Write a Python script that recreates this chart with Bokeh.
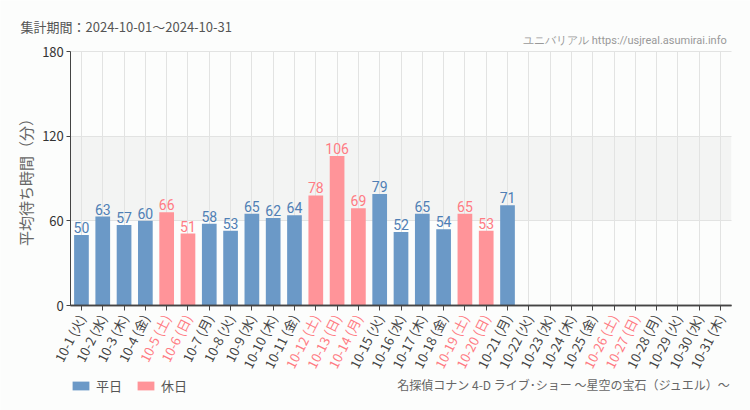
from bokeh.plotting import figure
from bokeh.models import (ColumnDataSource, Range1d, FixedTicker, BoxAnnotation,
                          LabelSet, Label, Legend, LegendItem, LinearAxis)
from bokeh.core.properties import value
from bokeh.embed import file_html
from bokeh.resources import INLINE
import math

# ---- data ----
dates = ["10-1", "10-2", "10-3", "10-4", "10-5", "10-6", "10-7", "10-8", "10-9", "10-10",
         "10-11", "10-12", "10-13", "10-14", "10-15", "10-16", "10-17", "10-18", "10-19", "10-20",
         "10-21", "10-22", "10-23", "10-24", "10-25", "10-26", "10-27", "10-28", "10-29", "10-30",
         "10-31"]
weekdays = ["火", "水", "木", "金", "土", "日", "月", "火", "水", "木",
            "金", "土", "日", "月", "火", "水", "木", "金", "土", "日",
            "月", "火", "水", "木", "金", "土", "日", "月", "火", "水",
            "木"]
holiday = [0, 0, 0, 0, 1, 1, 0, 0, 0, 0,
           0, 1, 1, 1, 0, 0, 0, 0, 1, 1,
           0, 0, 0, 0, 0, 1, 1, 0, 0, 0,
           0]
wait_minutes = [50, 63, 57, 60, 66, 51, 58, 53, 65, 62,
                64, 78, 106, 69, 79, 52, 65, 54, 65, 53,
                71, None, None, None, None, None, None, None, None, None,
                None]
y_ticks = [0, 60, 120, 180]

# ---- styles / layout ----
BLUE = "#6b99c7"
PINK = "#ff9499"
BLUE_TXT = "#4f7fb5"
PINK_TXT = "#ff7b83"
BG = "#fcfdfc"
GRID = "#e2e3e2"
AXIS = "#444444"
JP = "'Noto Sans CJK JP', 'Noto Sans', sans-serif"
NARROW = "Roboto, sans-serif"

W, H = 750, 410
CL, CR, CT, CB = 70.3, 730.7, 51.0, 305.0   # chart area in canvas pixels

xs = list(range(1, len(dates) + 1))
X0, X1 = 0.5, len(dates) + 0.5
Y0, Y1 = y_ticks[0], y_ticks[-1]
sx = (CR - CL) / (X1 - X0)
sy = (CB - CT) / (Y1 - Y0)


def px_x(px):
    return X0 + (px - CL) / sx


def px_y(py):
    return Y0 + (CB - py) / sy


tick_text = [f"{d} ({w})" for d, w in zip(dates, weekdays)]

wk = dict(x=[], y=[], t=[])
hd = dict(x=[], y=[], t=[])
for x, v, h in zip(xs, wait_minutes, holiday):
    if v is None:
        continue
    d = hd if h else wk
    d["x"].append(x)
    d["y"].append(v)
    d["t"].append(str(v))
src_wk = ColumnDataSource(wk)
src_hd = ColumnDataSource(hd)

p = figure(width=W, height=H, x_range=Range1d(px_x(0), px_x(W)),
           y_range=Range1d(px_y(H), px_y(0)), output_backend="svg",
           toolbar_location=None, min_border=0)
p.background_fill_color = BG
p.border_fill_color = BG
p.outline_line_color = None

band = BoxAnnotation(left=X0, right=X1, bottom=60, top=120, fill_color="#f3f4f3",
                     fill_alpha=1, line_color=None, level="image")
p.add_layout(band)

p.xgrid.ticker = FixedTicker(ticks=xs)
p.ygrid.ticker = FixedTicker(ticks=y_ticks)
p.xgrid.grid_line_color = GRID
p.ygrid.grid_line_color = GRID
try:
    p.xgrid.cross_bounds = (Y0, Y1)
    p.ygrid.cross_bounds = (X0, X1)
    p.xgrid.bounds = (X0, X1)
    p.ygrid.bounds = (Y0, Y1)
except Exception:
    p.xgrid.visible = False
    p.ygrid.visible = False
    p.segment(x0=xs, x1=xs, y0=[Y0] * len(xs), y1=[Y1] * len(xs),
              line_color=GRID, level="underlay")
    p.segment(x0=[X0] * 3, x1=[X1] * 3, y0=y_ticks[1:], y1=y_ticks[1:],
              line_color=GRID, level="underlay")

r1 = p.vbar(x="x", top="y", width=0.69, source=src_wk, fill_color=BLUE, line_color=None)
r2 = p.vbar(x="x", top="y", width=0.69, source=src_hd, fill_color=PINK, line_color=None)

for src, col in ((src_wk, BLUE_TXT), (src_hd, PINK_TXT)):
    p.add_layout(LabelSet(x="x", y="y", text="t", source=src, y_offset=2,
                          text_align="center", text_baseline="bottom",
                          text_color=col, text_font_size="14px",
                          text_font=value(NARROW)))

# ---- x axes: weekday labels (dark) and holiday labels (pink), both at y=0 ----
ANG = math.radians(63)
wk_ticks = [x for x, h in zip(xs, holiday) if not h]
hd_ticks = [x for x, h in zip(xs, holiday) if h]

xa = p.xaxis[0]
xa.fixed_location = Y0
xa.bounds = (X0, X1)
xa.ticker = FixedTicker(ticks=wk_ticks)
xa.major_label_overrides = {x: t for x, t, h in zip(xs, tick_text, holiday) if not h}
xb = LinearAxis(fixed_location=Y0, bounds=(X0, X1), ticker=FixedTicker(ticks=hd_ticks))
xb.major_label_overrides = {x: t for x, t, h in zip(xs, tick_text, holiday) if h}
p.add_layout(xb, "below")
for ax, col in ((xa, "#444444"), (xb, PINK_TXT)):
    ax.major_label_orientation = ANG
    ax.major_label_text_font = JP
    ax.major_label_text_font_size = "13px"
    ax.major_label_text_color = col
    ax.major_tick_out = 5
    ax.major_tick_in = 0
    ax.minor_tick_line_color = None
    ax.major_tick_line_color = AXIS
    ax.axis_line_color = AXIS
    ax.axis_line_width = 1.5

# ---- y axis ----
ya = p.yaxis[0]
ya.fixed_location = X0
ya.bounds = (Y0, Y1)
ya.ticker = FixedTicker(ticks=y_ticks)
ya.major_tick_out = 4
ya.major_tick_in = 0
ya.minor_tick_line_color = None
ya.axis_line_color = AXIS
ya.major_tick_line_color = AXIS
ya.major_label_text_font_size = "13px"
ya.major_label_text_color = "#333333"
ya.major_label_text_font = JP
ya.major_label_standoff = 3
ya.axis_label = "平均待ち時間（分）"
ya.axis_label_text_font = JP
ya.axis_label_text_font_style = "normal"
ya.axis_label_text_font_size = "15px"
ya.axis_label_text_color = "#666666"
ya.axis_label_standoff = 3

# ---- surrounding texts ----
p.add_layout(Label(x=px_x(20), y=px_y(26), text="集計期間：2024-10-01～2024-10-31",
                   text_font=JP, text_font_size="13px", text_color="#555555",
                   text_baseline="middle", text_align="left"))
p.add_layout(Label(x=px_x(729), y=px_y(40), text="ユニバリアル  https://usjreal.asumirai.info",
                   text_font=NARROW, text_font_size="11px", text_color="#999999",
                   text_baseline="middle", text_align="right"))
p.add_layout(Label(x=px_x(730), y=px_y(384),
                   text="名探偵コナン 4-D ライブ･ショー ～星空の宝石（ジュエル）～",
                   text_font=JP, text_font_size="12px", text_color="#666666",
                   text_baseline="middle", text_align="right"))

legend = Legend(items=[LegendItem(label="平日", renderers=[r1]),
                       LegendItem(label="休日", renderers=[r2])],
                location=(70, 15), orientation="horizontal", glyph_width=21,
                glyph_height=11, label_text_font_size="13px", label_text_color="#555555",
                label_text_font=JP, spacing=13, padding=0, margin=0,
                border_line_color=None, background_fill_alpha=0, label_standoff=5)
p.add_layout(legend)

open("out.html", "w").write(file_html(p, INLINE))
